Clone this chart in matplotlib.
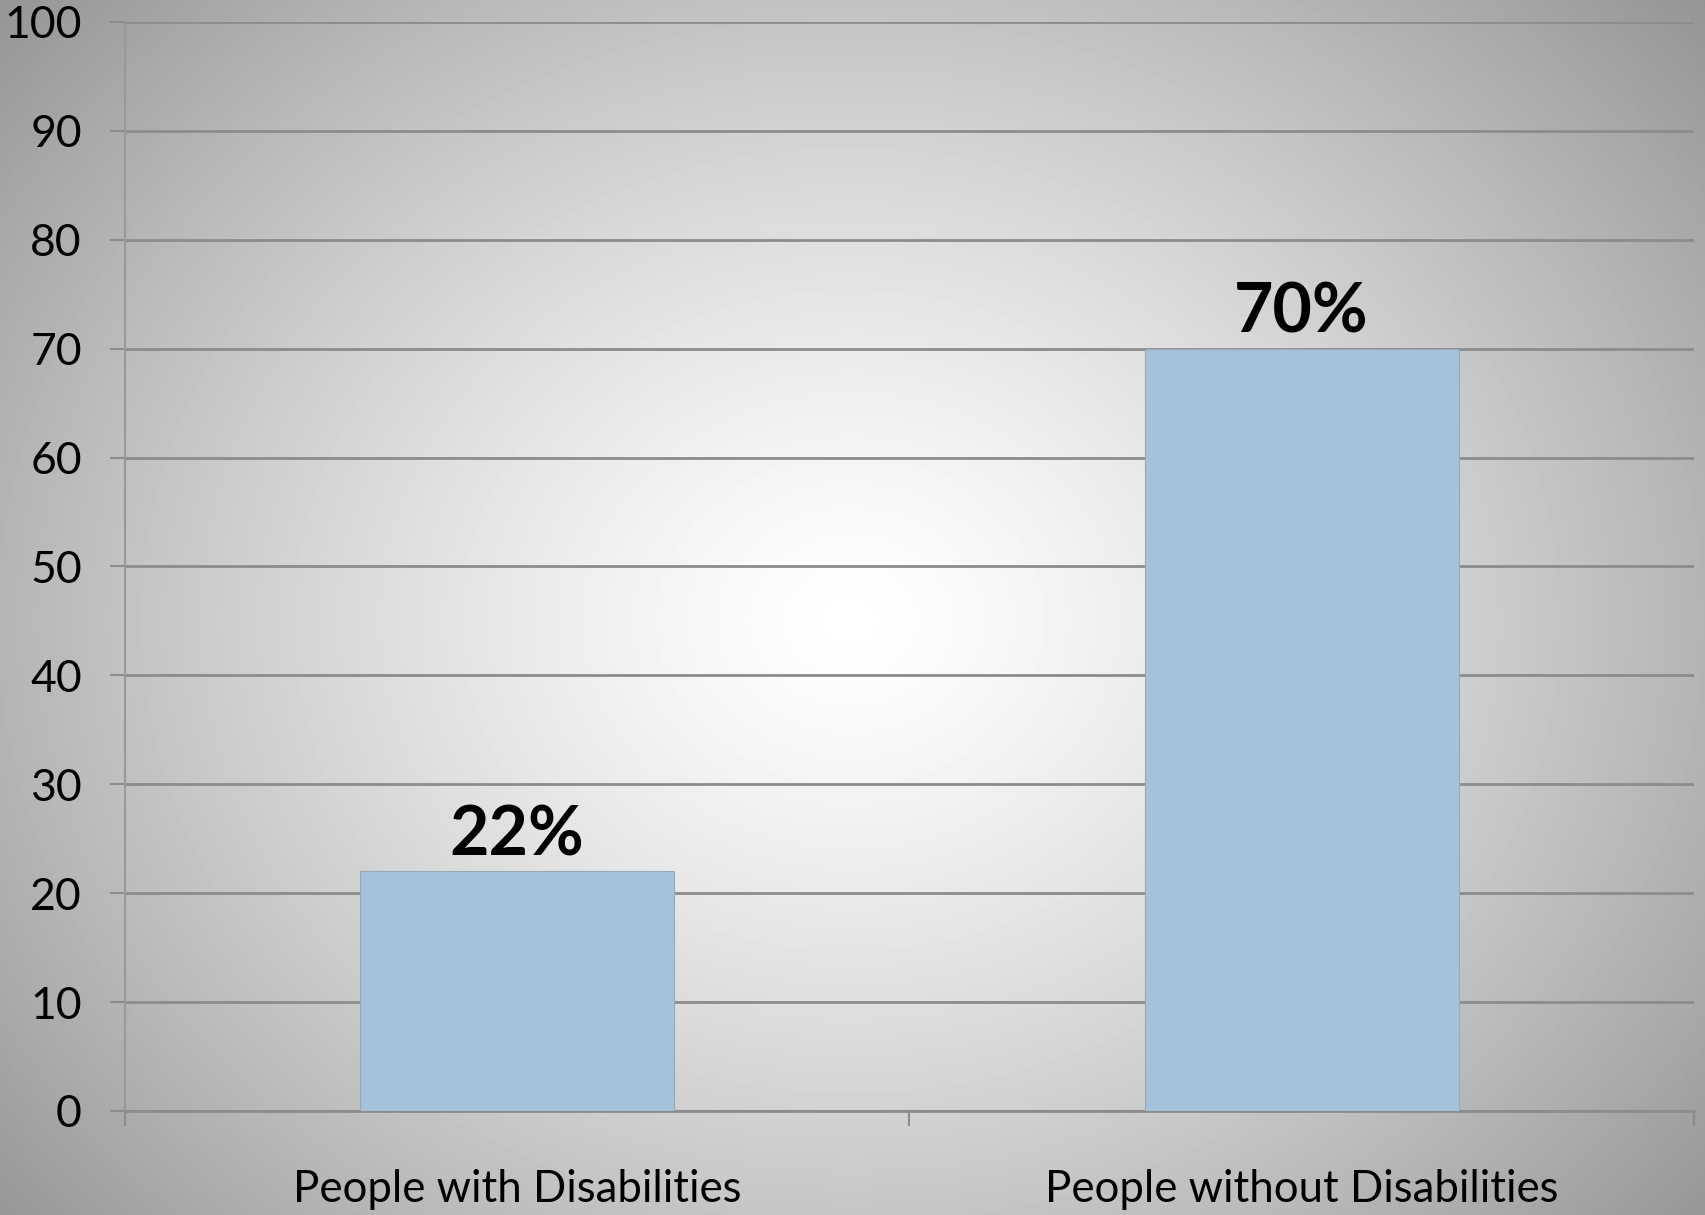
import numpy as np
import matplotlib.pyplot as plt

categories = ["People with Disabilities", "People without Disabilities"]
values = [22, 70]
bar_labels = ["22%", "70%"]
yticks = [0, 10, 20, 30, 40, 50, 60, 70, 80, 90, 100]

plt.rcParams["font.family"] = ["Lato", "DejaVu Sans"]

fig = plt.figure(figsize=(17.05, 12.15), dpi=100)

# radial grey background
bg = fig.add_axes([0, 0, 1, 1], zorder=-10)
yy, xx = np.mgrid[0:1215, 0:1705]
r = np.sqrt(((xx - 850) / 1000.0) ** 2 + ((yy - 620) / 850.0) ** 2)
shade = np.clip(1.0 - 0.36 * r ** 1.3, 0, 1)
bg.imshow(shade, cmap="gray", vmin=0, vmax=1, aspect="auto", interpolation="bilinear")
bg.axis("off")

ax = fig.add_axes([0.0733, 0.0856, 0.9202, 0.8963])
ax.patch.set_alpha(0)

x = np.arange(len(categories))
ax.bar(x, values, width=0.4, color="#a5c2dc", edgecolor="#9aa8b4", linewidth=0.8, zorder=3)
for xi, v, lab in zip(x, values, bar_labels):
    ax.annotate(lab, (xi, v), xytext=(0, 3), textcoords="offset points",
                ha="center", va="bottom", fontsize=49, fontweight="bold", color="black")

ax.set_xlim(-0.5, 1.5)
ax.set_ylim(0, 100)
ax.set_yticks(yticks)
ax.yaxis.grid(True, color="#8c8c8c", linewidth=2, zorder=1)
ax.set_axisbelow(True)

ax.set_xticks([-0.5, 0.5, 1.5])
ax.set_xticklabels([])
ax.set_xticks(x, minor=True)
ax.set_xticklabels(categories, minor=True)
ax.tick_params(axis="x", which="major", length=11, width=1.5, color="#8c8c8c")
ax.tick_params(axis="x", which="minor", length=0, pad=42, labelsize=31.5)
ax.tick_params(axis="y", length=11, width=1.5, color="#8c8c8c", pad=20, labelsize=32)

for s in ["top", "right"]:
    ax.spines[s].set_visible(False)
ax.spines["left"].set_color("#999999")
ax.spines["left"].set_linewidth(1.5)
ax.spines["bottom"].set_color("#8c8c8c")
ax.spines["bottom"].set_linewidth(2)

plt.savefig("out.png", dpi=100)
